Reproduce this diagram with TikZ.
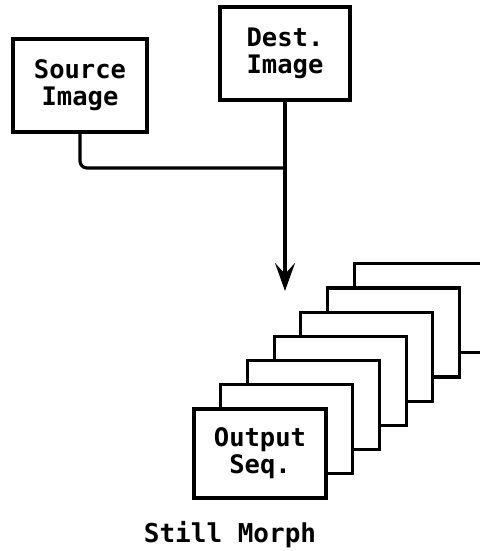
\documentclass[tikz,border=0pt]{standalone}
\usepackage{fontspec}
\usetikzlibrary{arrows.meta}
\newfontfamily\pixfont{DejaVu Sans Mono}

\tikzset{
    box/.style={draw, line width=3.2pt, fill=white, align=center,
        font=\pixfont\bfseries\fontsize{25.5}{27}\selectfont, inner sep=0pt},
    wire/.style={line width=3.2pt},
}

\begin{document}
\begin{tikzpicture}[x=1pt, y=-1pt]
    \useasboundingbox (0,0) rectangle (479,551);

    % Draw the two input images
    \node[box, minimum width=134pt, minimum height=93pt] (source) at (80,85.5) {Source\\Image};
    \node[box, minimum width=130pt, minimum height=93pt] (dest) at (285,53.5) {Dest.\\Image};

    % Draw the join and the arrow down
    \coordinate (join) at (285,168);
    \coordinate (tip) at (285,291);
    \draw[wire, rounded corners=7pt] (source.south) |- (join);
    \draw[wire, -{Stealth[length=28pt, width=20pt, inset=11pt]}] (dest.south) -- (tip);

    % Draw the stack of output frames, back to front
    \foreach \i in {6,...,1}
        \node[box, minimum width=132pt, minimum height=89pt] (fr\i) at (260+26.7*\i, 453.5-24.2*\i) {};
    \node[box, minimum width=132pt, minimum height=89pt] (fr0) at (260,453.5) {Output\\Seq.};

    % Caption
    \node[font=\pixfont\bfseries\fontsize{26}{28}\selectfont, anchor=base, inner sep=0pt] (caption) at (230,542) {Still Morph};
\end{tikzpicture}
\end{document}
